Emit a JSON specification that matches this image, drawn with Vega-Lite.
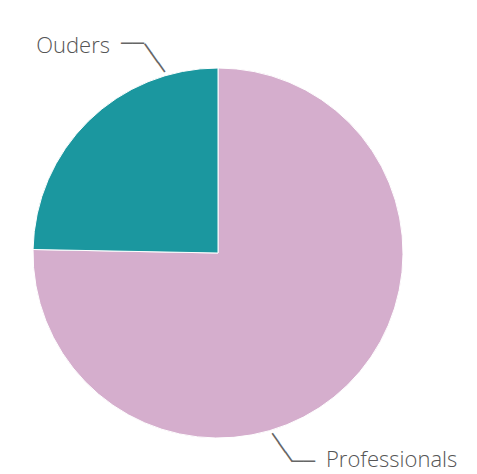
{
  "$schema": "https://vega.github.io/schema/vega-lite/v6.json",
  "width": 436,
  "height": 442,
  "autosize": {"type": "none"},
  "padding": {"left": 0, "top": 32, "right": 41, "bottom": 0},
  "background": "white",
  "config": {"view": {"stroke": null}},
  "data": {
    "values": [
      {"groep": "Professionals", "aandeel": 75.3, "volgorde": 1},
      {"groep": "Ouders", "aandeel": 24.7, "volgorde": 2}
    ]
  },
  "layer": [
    {
      "mark": {"type": "arc", "outerRadius": 185, "stroke": "white", "strokeWidth": 1},
      "encoding": {
        "theta": {"field": "aandeel", "type": "quantitative", "stack": true},
        "order": {"field": "volgorde", "type": "quantitative"},
        "color": {
          "field": "groep",
          "type": "nominal",
          "scale": {"domain": ["Professionals", "Ouders"], "range": ["#d5aecd", "#1b979f"]},
          "legend": null
        }
      }
    },
    {
      "mark": {"type": "text", "radius": 205, "text": "───", "font": "DejaVu Sans Mono", "fontSize": 19, "angle": 54.5, "align": "center", "baseline": "middle", "color": "#666666"},
      "encoding": {
        "theta": {"field": "aandeel", "type": "quantitative", "stack": true, "scale": {"range": [0.4596, 6.7428]}},
        "order": {"field": "volgorde", "type": "quantitative"}
      }
    },
    {
      "mark": {"type": "text", "radius": 225.8, "text": "──", "font": "DejaVu Sans Mono", "fontSize": 19, "align": "center", "baseline": "middle", "color": "#666666"},
      "encoding": {
        "theta": {"field": "aandeel", "type": "quantitative", "stack": true, "scale": {"range": [0.3877, 6.6709]}},
        "order": {"field": "volgorde", "type": "quantitative"}
      }
    },
    {
      "mark": {
        "type": "text",
        "radius": 233.5,
        "font": "Open Sans",
        "fontSize": 22,
        "fontWeight": 300,
        "color": "#555555",
        "baseline": "middle",
        "align": {"expr": "datum.aandeel_start + datum.aandeel_end > 100 ? 'right' : 'left'"}
      },
      "encoding": {
        "theta": {"field": "aandeel", "type": "quantitative", "stack": true, "scale": {"range": [0.2951, 6.5783]}},
        "order": {"field": "volgorde", "type": "quantitative"},
        "text": {"field": "groep", "type": "nominal"}
      }
    }
  ],
  "resolve": {"scale": {"theta": "independent"}}
}
